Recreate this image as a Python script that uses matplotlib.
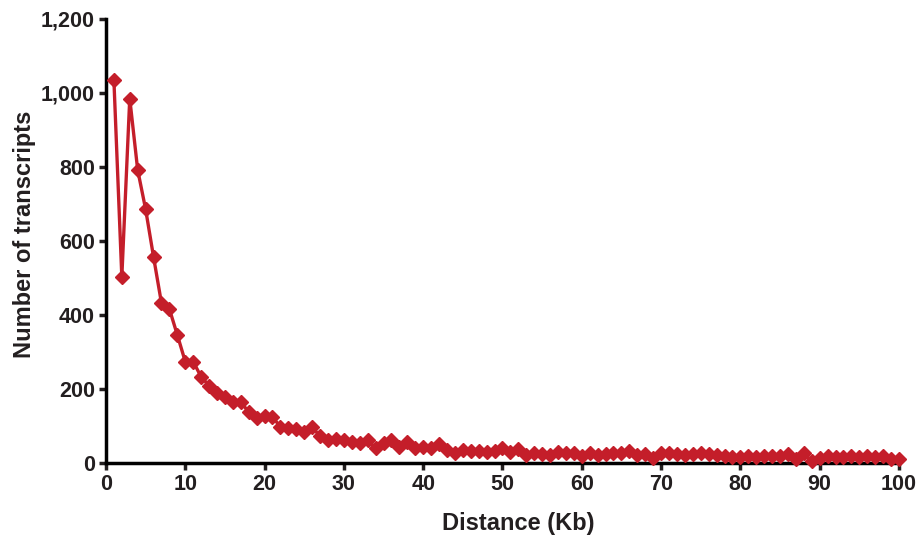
import matplotlib
matplotlib.use("Agg")
import matplotlib.pyplot as plt

distance_kb = list(range(1, 101))
transcripts = [
    1035, 503, 985, 792, 686, 557, 432, 416, 346, 274,
    274, 233, 209, 188, 179, 166, 166, 137, 122, 127,
    124, 98, 94, 91, 85, 96, 73, 62, 66, 63,
    58, 53, 62, 40, 53, 62, 44, 58, 40, 44,
    40, 51, 35, 28, 35, 33, 33, 31, 33, 40,
    31, 37, 22, 28, 24, 22, 31, 26, 28, 19,
    26, 22, 24, 28, 28, 33, 22, 24, 13, 26,
    26, 24, 22, 24, 26, 24, 22, 18, 16, 16,
    18, 16, 18, 18, 20, 24, 11, 26, 5, 13,
    18, 16, 16, 18, 16, 18, 16, 20, 11, 11,
]
x_ticks = list(range(0, 101, 10))
y_ticks = list(range(0, 1201, 200))
y_tick_labels = ["0", "200", "400", "600", "800", "1,000", "1,200"]

plt.rcParams["font.family"] = ["Liberation Sans", "DejaVu Sans"]
plt.rcParams["font.weight"] = "bold"

fig = plt.figure(figsize=(9.19, 5.36), dpi=100)
ax = fig.add_axes([0.1153, 0.1362, 0.8629, 0.8284])

ax.plot(distance_kb, transcripts, color="#c41e2a", linewidth=2.4,
        marker="D", markersize=7.5, clip_on=False, zorder=3)

ax.set_xlim(0, 100)
ax.set_ylim(0, 1200)
ax.set_xticks(x_ticks)
ax.set_yticks(y_ticks)
ax.set_yticklabels(y_tick_labels)

for side in ("top", "right"):
    ax.spines[side].set_visible(False)
for side in ("left", "bottom"):
    ax.spines[side].set_linewidth(2.5)
ax.tick_params(axis="both", direction="out", length=5, width=2.5,
               labelsize=15.5, pad=3, colors="#231f20")
for lab in ax.get_xticklabels() + ax.get_yticklabels():
    lab.set_fontweight("bold")

ax.set_xlabel("Distance (Kb)", fontsize=17, fontweight="bold", color="#231f20")
ax.set_ylabel("Number of transcripts", fontsize=17, fontweight="bold",
              color="#231f20")
ax.xaxis.set_label_coords(0.52, -0.11)
ax.yaxis.set_label_coords(-0.088, 0.516)

fig.savefig("out.png", dpi=100)
plt.close(fig)
